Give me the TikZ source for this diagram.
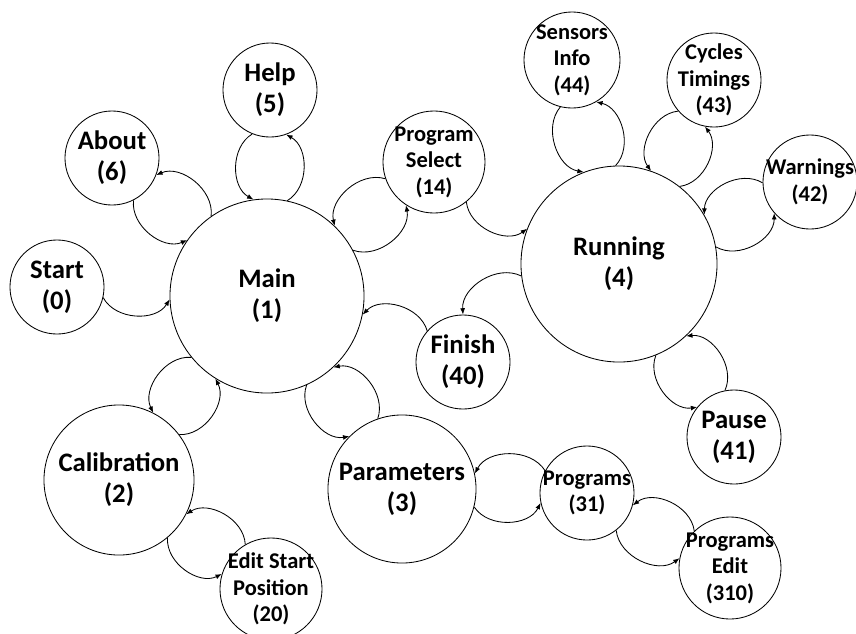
\documentclass[tikz,border=0pt]{standalone}
\usepackage{fontspec}
\setmainfont{Carlito}
\usetikzlibrary{arrows.meta}

\begin{document}
\begin{tikzpicture}[
  x=0.025cm, y=-0.025cm,
  st/.style={circle, draw, line width=0.6pt, inner sep=-6pt,
             minimum size=#1*0.05cm, align=center},
  big/.style={st=#1, font=\bfseries\fontsize{19}{22}\selectfont},
  small/.style={st=#1, font=\bfseries\fontsize{16}{18.8}\selectfont},
  arr/.style={-{Latex[length=4.5pt,width=3.5pt]}, line width=0.6pt, bend right=60},
]
\useasboundingbox (0,0) rectangle (856,633);

% states
\node[big=97]   (main)  at (267,296) {Main\\(1)};
\node[big=98]   (run)   at (619,264) {Running\\(4)};
\node[big=75]   (calib) at (119,480) {Calibration\\(2)};
\node[big=74]   (param) at (402,489) {Parameters\\(3)};
\node[big=47]   (start) at (57,287)  {Start\\(0)};
\node[big=47]   (about) at (112,158) {About\\(6)};
\node[big=47]   (help)  at (270,90)  {Help\\(5)};
\node[big=47]   (fin)   at (463,362) {Finish\\(40)};
\node[big=47]   (pause) at (734,437) {Pause\\(41)};
\node[small=51] (psel)  at (434,162) {Program\\Select\\(14)};
\node[small=48] (sens)  at (572,60)  {Sensors\\Info\\(44)};
\node[small=47] (cyc)   at (714,80)  {Cycles\\Timings\\(43)};
\node[small=47] (warn)  at (810,182) {Warnings\\(42)};
\node[small=51] (edit)  at (271,589) {Edit Start\\Position\\(20)};
\node[small=47] (progs) at (587,493) {Programs\\(31)};
\node[small=51] (pedit) at (730,568) {Programs\\Edit\\(310)};

% transitions
\draw[arr] (start.-13) to (main.182);
\draw[arr] (about.-63) to (main.145);
\draw[arr] (main.125)  to (about.-21);
\draw[arr] (help.248)  to (main.98);
\draw[arr] (main.78)   to (help.-70);
\draw[arr] (psel.199)  to (main.46);
\draw[arr] (main.28)   to (psel.237);
\draw[arr] (psel.-51)  to (run.159);
\draw[arr] (sens.256)  to (run.111);
\draw[arr] (run.92)    to (sens.-60);
\draw[arr] (cyc.221)   to (run.71);
\draw[arr] (run.52)    to (cyc.259);
\draw[arr] (warn.181)  to (run.30);
\draw[arr] (run.10)    to (warn.221);
\draw[arr] (run.187)   to (fin.90);
\draw[arr] (fin.139)   to (main.-11);
\draw[arr] (pause.101) to (run.-47);
\draw[arr] (run.-68)   to (pause.141);
\draw[arr] (main.219)  to (calib.63);
\draw[arr] (calib.37)  to (main.238);
\draw[arr] (edit.120)  to (calib.-27);
\draw[arr] (calib.-50) to (edit.163);
\draw[arr] (main.-66)  to (param.135);
\draw[arr] (param.109) to (main.-47);
\draw[arr] (progs.152) to (param.12);
\draw[arr] (param.-14) to (progs.192);
\draw[arr] (pedit.134) to (progs.-15);
\draw[arr] (progs.-52) to (pedit.169);

\end{tikzpicture}
\end{document}
